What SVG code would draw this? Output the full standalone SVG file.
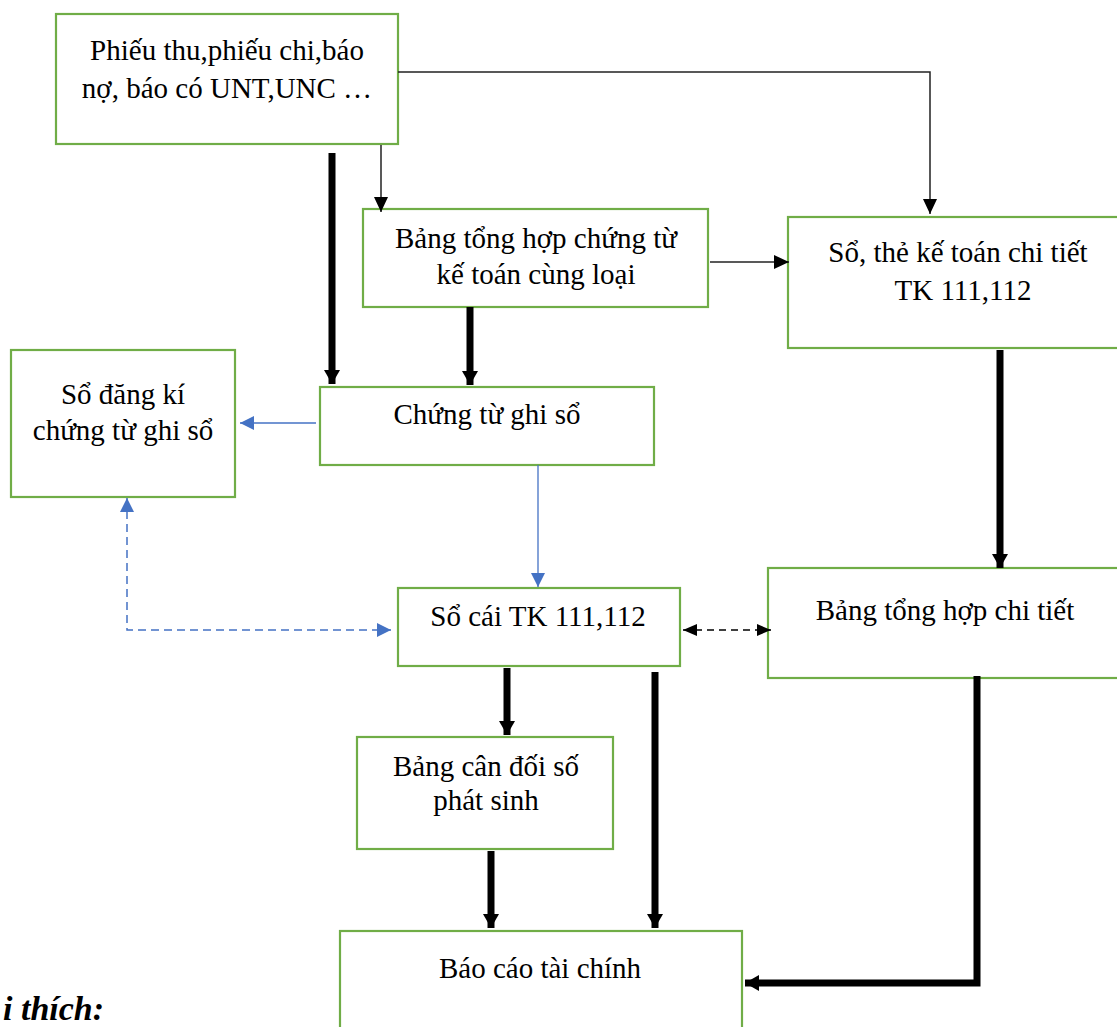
<svg xmlns="http://www.w3.org/2000/svg" width="1117" height="1027" viewBox="0 0 1117 1027">
<style>
.box{fill:#fff;stroke:#70AD47;stroke-width:2.2}
.t{font-family:"Liberation Serif","Times New Roman",serif;font-size:29px;fill:#000;text-anchor:middle}
.thin{fill:none;stroke:#222;stroke-width:1.5}
.thick{fill:none;stroke:#000;stroke-width:7}
.blue{fill:none;stroke:#4472C4;stroke-width:1.3}
.bdash{fill:none;stroke:#4472C4;stroke-width:1.5;stroke-dasharray:8 5}
.kdash{fill:none;stroke:#000;stroke-width:1.5;stroke-dasharray:7 5}
</style>
<defs>
<marker id="aThin" markerUnits="userSpaceOnUse" markerWidth="16" markerHeight="16" refX="15" refY="8" orient="auto"><path d="M0,1 L15,8 L0,15 Z" fill="#000"/></marker>
<marker id="aThick" markerUnits="userSpaceOnUse" markerWidth="18" markerHeight="18" refX="14" refY="9" orient="auto"><path d="M0,1 L14,9 L0,17 Z" fill="#000"/></marker>
<marker id="aBlue" markerUnits="userSpaceOnUse" markerWidth="16" markerHeight="16" refX="14" refY="8" orient="auto"><path d="M0,1 L14,8 L0,15 Z" fill="#4472C4"/></marker>
<marker id="aBlueS" markerUnits="userSpaceOnUse" markerWidth="16" markerHeight="16" refX="14" refY="8" orient="auto-start-reverse"><path d="M0,1 L14,8 L0,15 Z" fill="#4472C4"/></marker>
<marker id="aDash" markerUnits="userSpaceOnUse" markerWidth="16" markerHeight="16" refX="14" refY="8" orient="auto-start-reverse"><path d="M0,2 L14,8 L0,14 Z" fill="#000"/></marker>
</defs>

<g id="n1"><rect class="box" x="56" y="14" width="342" height="130"/>
<text class="t" x="227" y="60">Phiếu thu,phiếu chi,báo</text>
<text class="t" x="227" y="98">nợ, báo có UNT,UNC …</text></g>

<g id="n2"><rect class="box" x="363" y="209" width="345" height="98"/>
<text class="t" x="536" y="248">Bảng tổng hợp chứng từ</text>
<text class="t" x="536" y="284">kế toán cùng loại</text></g>

<g id="n3"><rect class="box" x="788" y="217" width="340" height="131"/>
<text class="t" x="958" y="262">Sổ, thẻ kế toán chi tiết</text>
<text class="t" x="963" y="300">TK 111,112</text></g>

<g id="n4"><rect class="box" x="11" y="350" width="224" height="147"/>
<text class="t" x="123" y="404">Sổ đăng kí</text>
<text class="t" x="123" y="440">chứng từ ghi sổ</text></g>

<g id="n5"><rect class="box" x="320" y="387" width="334" height="78"/>
<text class="t" x="487" y="424">Chứng từ ghi sổ</text></g>

<g id="n6"><rect class="box" x="398" y="588" width="282" height="78"/>
<text class="t" x="538" y="626">Sổ cái TK 111,112</text></g>

<g id="n7"><rect class="box" x="768" y="568" width="360" height="110"/>
<text class="t" x="945" y="620">Bảng tổng hợp chi tiết</text></g>

<g id="n8"><rect class="box" x="357" y="737" width="256" height="112"/>
<text class="t" x="486" y="776">Bảng cân đối số</text>
<text class="t" x="486" y="810">phát sinh</text></g>

<g id="n9"><rect class="box" x="340" y="931" width="402" height="110"/>
<text class="t" x="540" y="978">Báo cáo tài chính</text></g>

<g id="connectors">
<path class="thin" d="M398,72 H930 V214" marker-end="url(#aThin)"/>
<path class="thin" d="M381,145 V212" marker-end="url(#aThin)"/>
<path class="thin" d="M710,262 H789" marker-end="url(#aThin)"/>
<path class="thick" d="M332,153 V384" marker-end="url(#aThick)"/>
<path class="thick" d="M470,307 V385" marker-end="url(#aThick)"/>
<path class="thick" d="M1000,350 V568" marker-end="url(#aThick)"/>
<path class="blue" d="M316,423 H240" marker-end="url(#aBlue)"/>
<path class="blue" d="M538,465 V587" marker-end="url(#aBlue)"/>
<path class="bdash" d="M127,498 V630 H391" marker-start="url(#aBlueS)" marker-end="url(#aBlueS)"/>
<path class="kdash" d="M683,630 H771" marker-start="url(#aDash)" marker-end="url(#aDash)"/>
<path class="thick" d="M507,668 V735" marker-end="url(#aThick)"/>
<path class="thick" d="M655,672 V928" marker-end="url(#aThick)"/>
<path class="thick" d="M491,851 V928" marker-end="url(#aThick)"/>
<path class="thick" d="M977,676 V983 H745" marker-end="url(#aThick)"/>
</g>

<text x="3" y="1020" style="font-family:'Liberation Serif','Times New Roman',serif;font-size:34px;font-weight:bold;font-style:italic">i thích:</text>
</svg>
